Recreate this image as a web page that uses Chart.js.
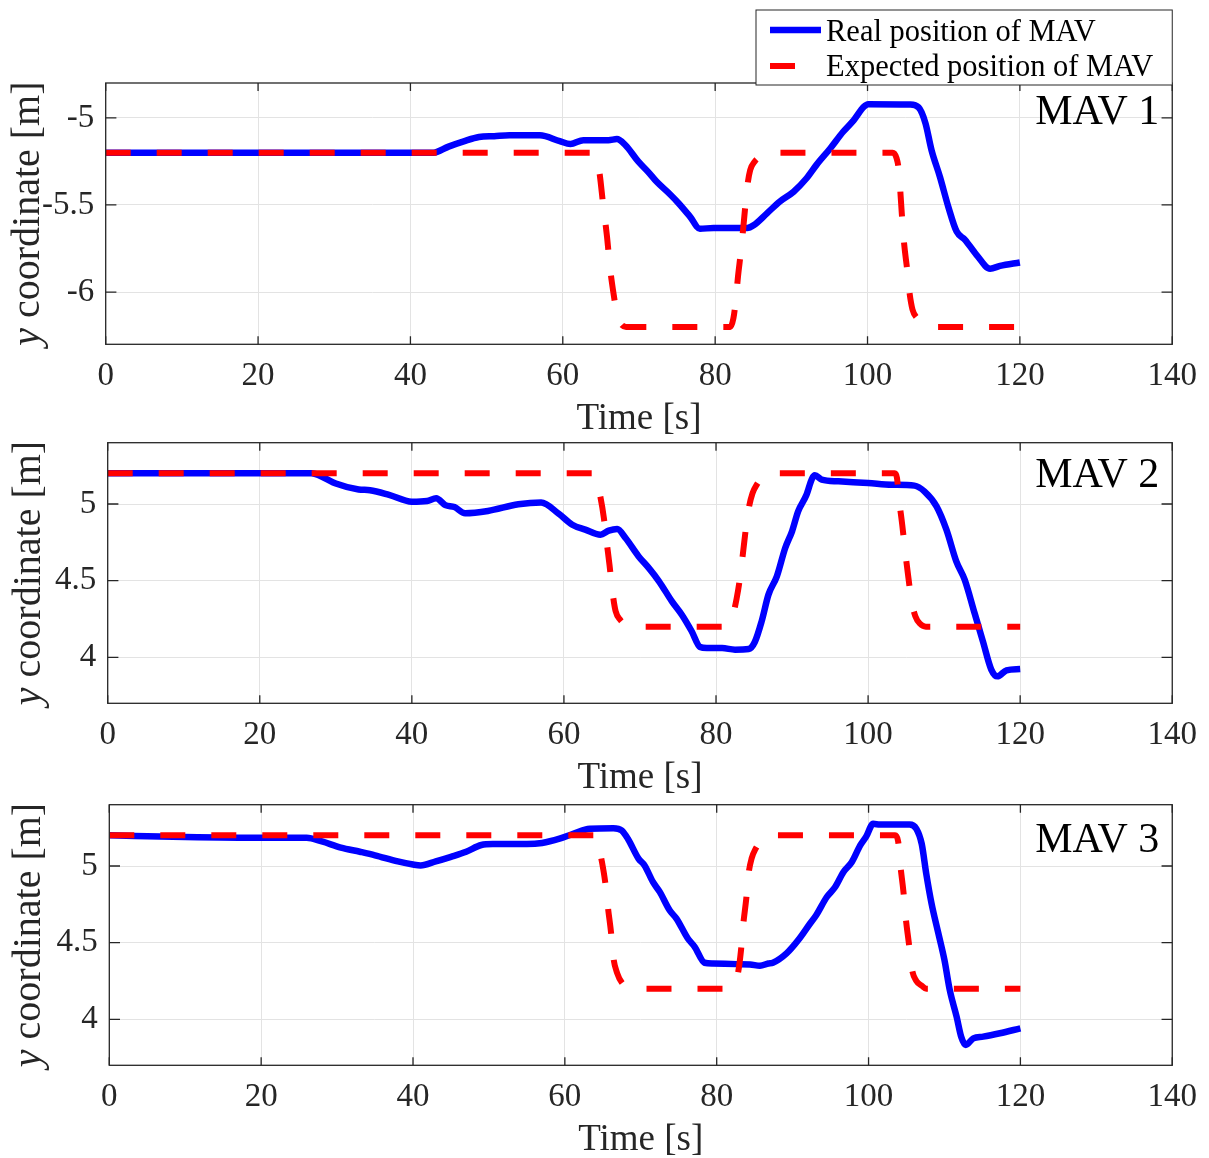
<!DOCTYPE html>
<html>
<head>
<meta charset="utf-8">
<script src="https://cdn.jsdelivr.net/npm/chart.js@4.4.1/dist/chart.umd.min.js"></script>
<style>
  body { margin: 0; background: #fff; }
  #page { position: relative; width: 1209px; height: 1158px; overflow: hidden; background: #fff; }
  #page canvas { position: absolute; left: 0; }
</style>
</head>
<body>
<div id="page">
  <canvas id="mav1" width="1209" height="440" style="top:0px"></canvas>
  <canvas id="mav2" width="1209" height="400" style="top:400px"></canvas>
  <canvas id="mav3" width="1209" height="398" style="top:760px"></canvas>
</div>
<script>
// tick values
const xTicks = [0, 20, 40, 60, 80, 100, 120, 140];
const mav1YTicks = [-6, -5.5, -5];
const mav23YTicks = [4, 4.5, 5];

const legendLabels = ['Real position of MAV', 'Expected position of MAV'];
const panelLabels = ['MAV 1', 'MAV 2', 'MAV 3'];

// MAV 1 - real position
const mav1RealT = [0, 43, 45, 47, 49, 51, 53, 57, 59.6, 61, 62.7, 66, 67.1, 68.2, 69.9, 71.2, 72.3, 74.1, 75.2, 76.7, 78, 79.8, 84.2, 85.1, 86.8, 88.5, 90.3, 92, 93.3, 95.1, 96.8, 98.2, 99.5, 100.1, 105.6, 106.7, 107.6, 108.4, 109.5, 110.6, 111.7, 112.8, 114.3, 116.1, 117.4, 120];
const mav1RealY = [-5.2, -5.2, -5.165, -5.135, -5.11, -5.105, -5.1, -5.1, -5.134, -5.15, -5.128, -5.128, -5.122, -5.156, -5.25, -5.31, -5.366, -5.44, -5.49, -5.567, -5.637, -5.632, -5.632, -5.615, -5.548, -5.48, -5.424, -5.347, -5.27, -5.176, -5.08, -5.013, -4.937, -4.922, -4.924, -4.94, -5.03, -5.185, -5.338, -5.51, -5.653, -5.7, -5.786, -5.866, -5.85, -5.83];
// MAV 1 - expected position
const mav1ExpT = [0, 63.6, 64.2, 64.5, 64.8, 65.3, 65.8, 66.2, 66.7, 67.1, 67.6, 68.3, 69.5, 82.0, 82.4, 82.7, 83.0, 83.4, 83.8, 84.2, 84.6, 85.2, 86.0, 87.0, 103.3, 103.8, 104.1, 104.5, 104.8, 105.2, 105.5, 105.9, 106.5, 107.3, 108.5, 120];
const mav1ExpY = [-5.2, -5.2, -5.21, -5.25, -5.31, -5.5, -5.68, -5.86, -6.02, -6.12, -6.18, -6.2, -6.2, -6.2, -6.15, -6.05, -5.91, -5.76, -5.58, -5.4, -5.3, -5.25, -5.22, -5.2, -5.2, -5.23, -5.3, -5.55, -5.72, -5.87, -6.0, -6.1, -6.15, -6.19, -6.2, -6.2];

// MAV 2 - real position
const mav2RealT = [0, 26.8, 28.5, 30, 33, 34.5, 37, 40, 42, 43.2, 44.4, 45.6, 47, 50, 54, 57, 59.3, 61.1, 62.8, 64.8, 65.9, 67, 68.1, 69.8, 71.2, 72.5, 74.2, 75.5, 76.8, 77.9, 78.8, 80.8, 82.5, 84.3, 85.1, 86, 86.9, 88, 89.1, 90, 90.8, 91.9, 92.6, 93, 93.9, 96.1, 100, 103.1, 106.1, 107.4, 109, 110.3, 111.6, 112.7, 114, 115.1, 116.2, 117, 118.2, 120];
const mav2RealY = [5.2, 5.2, 5.17, 5.134, 5.095, 5.09, 5.06, 5.015, 5.02, 5.037, 4.993, 4.98, 4.94, 4.955, 4.998, 5.01, 4.937, 4.865, 4.833, 4.8, 4.826, 4.837, 4.778, 4.66, 4.58, 4.496, 4.365, 4.278, 4.17, 4.067, 4.06, 4.06, 4.05, 4.054, 4.1, 4.235, 4.409, 4.528, 4.713, 4.822, 4.952, 5.06, 5.163, 5.187, 5.159, 5.148, 5.137, 5.126, 5.12, 5.083, 4.985, 4.833, 4.626, 4.507, 4.289, 4.104, 3.92, 3.876, 3.915, 3.924];
// MAV 2 - expected position
const mav2ExpT = [0, 63.7, 64.2, 64.7, 65.25, 65.6, 66.0, 66.4, 66.8, 67.4, 68.2, 69.5, 80.6, 81.6, 82.0, 82.3, 82.7, 83.1, 83.5, 83.9, 84.3, 84.8, 85.4, 86.2, 87.3, 103.5, 103.8, 104.1, 104.5, 104.9, 105.3, 105.7, 106.2, 106.8, 107.6, 120];
const mav2ExpY = [5.2, 5.2, 5.17, 5.07, 4.91, 4.76, 4.6, 4.42, 4.3, 4.245, 4.21, 4.2, 4.2, 4.21, 4.24, 4.29, 4.38, 4.5, 4.66, 4.83, 4.97, 5.07, 5.13, 5.18, 5.2, 5.2, 5.17, 5.02, 4.86, 4.68, 4.52, 4.37, 4.27, 4.22, 4.2, 4.2];

// MAV 3 - real position
const mav3RealT = [0, 10, 20, 26, 28, 30.5, 33, 35, 38, 40, 41, 43, 45, 47, 49, 50.5, 55, 57, 59.3, 61.1, 63.3, 66.4, 67.5, 68.3, 69.7, 70.5, 71.6, 72.5, 73.8, 74.7, 76.2, 77.1, 78.4, 79.5, 82.6, 84.4, 85.7, 86.8, 87.4, 89.2, 90.9, 92.3, 93.1, 94.5, 95.6, 96.7, 97.8, 98.9, 99.7, 100.6, 101.5, 105.4, 106.3, 107, 107.6, 108.3, 109.2, 110, 110.7, 111.6, 112.2, 112.8, 113.8, 115.1, 117.3, 120];
const mav3RealY = [5.2, 5.19, 5.185, 5.185, 5.16, 5.12, 5.093, 5.07, 5.03, 5.01, 5.004, 5.03, 5.06, 5.093, 5.137, 5.143, 5.143, 5.15, 5.178, 5.21, 5.243, 5.247, 5.232, 5.178, 5.048, 5.004, 4.896, 4.831, 4.711, 4.657, 4.527, 4.473, 4.369, 4.364, 4.36, 4.358, 4.349, 4.364, 4.369, 4.43, 4.527, 4.625, 4.679, 4.798, 4.863, 4.961, 5.026, 5.134, 5.193, 5.275, 5.271, 5.271, 5.243, 5.145, 4.95, 4.755, 4.56, 4.386, 4.19, 4.017, 3.887, 3.833, 3.876, 3.887, 3.909, 3.941];
// MAV 3 - expected position
const mav3ExpT = [0, 64.0, 64.4, 64.8, 65.3, 65.7, 66.1, 66.4, 66.9, 67.5, 68.3, 69.5, 80.9, 82.0, 82.4, 82.8, 83.2, 83.5, 83.9, 84.2, 84.6, 85.1, 86.0, 87.8, 103.5, 103.9, 104.2, 104.6, 104.9, 105.3, 105.7, 106.3, 107.0, 107.6, 120];
const mav3ExpY = [5.2, 5.2, 5.15, 5.05, 4.9, 4.72, 4.56, 4.4, 4.3, 4.24, 4.21, 4.2, 4.2, 4.21, 4.24, 4.3, 4.45, 4.62, 4.79, 4.95, 5.05, 5.11, 5.17, 5.2, 5.2, 5.16, 5.0, 4.83, 4.66, 4.5, 4.33, 4.25, 4.22, 4.2, 4.2];

const SERIF = '"Liberation Serif", "Times New Roman", serif';
const INK = '#262626';

function points(ts, ys) {
    return ts.map((t, i) => ({ x: t, y: ys[i] }));
}

// draws the matlab style box, inward ticks, axis titles, panel label and legend
const framePlugin = {
    id: 'frame',
    afterDraw(chart, args, opts) {
        const { ctx, chartArea: a, scales } = chart;
        ctx.save();

        // box
        ctx.strokeStyle = INK;
        ctx.lineWidth = 1.3;
        ctx.strokeRect(a.left, a.top, a.right - a.left, a.bottom - a.top);

        // inward ticks
        ctx.beginPath();
        scales.x.ticks.forEach(t => {
            const px = scales.x.getPixelForValue(t.value);
            ctx.moveTo(px, a.bottom); ctx.lineTo(px, a.bottom - 8);
            ctx.moveTo(px, a.top); ctx.lineTo(px, a.top + 8);
        });
        scales.y.ticks.forEach(t => {
            const py = scales.y.getPixelForValue(t.value);
            ctx.moveTo(a.left, py); ctx.lineTo(a.left + 10.7, py);
            ctx.moveTo(a.right, py); ctx.lineTo(a.right - 10.7, py);
        });
        ctx.stroke();

        // x title
        ctx.fillStyle = INK;
        ctx.font = '37px ' + SERIF;
        ctx.textAlign = 'center';
        ctx.textBaseline = 'alphabetic';
        ctx.fillText('Time [s]', (a.left + a.right) / 2, a.bottom + 85);

        // y title, italic y
        ctx.save();
        ctx.translate(opts.yTitleX, (a.top + a.bottom) / 2);
        ctx.rotate(-Math.PI / 2);
        ctx.textAlign = 'left';
        ctx.font = 'italic 40px ' + SERIF;
        const wY = ctx.measureText('y').width;
        ctx.font = '40px ' + SERIF;
        const wRest = ctx.measureText(' coordinate [m]').width;
        const x0 = -(wY + wRest) / 2;
        ctx.font = 'italic 40px ' + SERIF;
        ctx.fillText('y', x0, 0);
        ctx.font = '40px ' + SERIF;
        ctx.fillText(' coordinate [m]', x0 + wY, 0);
        ctx.restore();

        // panel label
        ctx.fillStyle = '#000';
        ctx.font = '42px ' + SERIF;
        ctx.textAlign = 'right';
        ctx.fillText(opts.label, a.right - 13, a.top + opts.labelOffset);

        // legend (first panel only)
        if (opts.legend) {
            const lx = 756, ly = 10, lw = a.right - 756, lh = 75;
            ctx.fillStyle = '#fff';
            ctx.fillRect(lx, ly, lw, lh);
            ctx.strokeStyle = INK;
            ctx.lineWidth = 1;
            ctx.strokeRect(lx, ly, lw, lh);

            ctx.lineWidth = 6.5;
            ctx.lineCap = 'butt';
            ctx.strokeStyle = '#0000ff';
            ctx.beginPath(); ctx.moveTo(770, 30); ctx.lineTo(821, 30); ctx.stroke();
            ctx.lineWidth = 6;
            ctx.strokeStyle = '#ff0000';
            ctx.beginPath(); ctx.moveTo(770, 66); ctx.lineTo(795, 66); ctx.stroke();

            ctx.fillStyle = '#000';
            ctx.font = '30.5px ' + SERIF;
            ctx.textAlign = 'left';
            ctx.fillText(legendLabels[0], 826, 41);
            ctx.fillText(legendLabels[1], 826, 76);
        }
        ctx.restore();
    }
};

function makeChart(id, cfg) {
    new Chart(document.getElementById(id), {
        type: 'line',
        data: {
            datasets: [
                {
                    label: legendLabels[0],
                    data: points(cfg.realT, cfg.realY),
                    borderColor: '#0000ff',
                    borderWidth: 6.5,
                    pointRadius: 0,
                    cubicInterpolationMode: 'monotone',
                    borderCapStyle: 'butt',
                    order: 1
                },
                {
                    label: legendLabels[1],
                    data: points(cfg.expT, cfg.expY),
                    borderColor: '#ff0000',
                    borderWidth: 6,
                    borderDash: [25, 26],
                    pointRadius: 0,
                    cubicInterpolationMode: 'monotone',
                    borderCapStyle: 'butt',
                    order: 0
                }
            ]
        },
        options: {
            responsive: false,
            animation: false,
            devicePixelRatio: 1,
            layout: { padding: { left: 0, right: cfg.padRight, top: cfg.padTop, bottom: 0 } },
            plugins: {
                legend: { display: false },
                tooltip: { enabled: false },
                frame: { label: cfg.label, labelOffset: cfg.labelOffset, legend: cfg.legend, yTitleX: cfg.yTitleX }
            },
            scales: {
                x: {
                    type: 'linear',
                    min: 0,
                    max: 140,
                    afterBuildTicks: s => { s.ticks = xTicks.map(v => ({ value: v })); },
                    afterFit: s => { s.height = cfg.xHeight; },
                    ticks: {
                        autoSkip: false,
                        maxRotation: 0,
                        padding: 12,
                        color: INK,
                        font: { family: SERIF, size: 33 },
                        callback: v => String(v)
                    },
                    grid: { color: '#e3e3e3', lineWidth: 1, drawTicks: false },
                    border: { display: false }
                },
                y: {
                    type: 'linear',
                    min: cfg.yMin,
                    max: cfg.yMax,
                    afterBuildTicks: s => { s.ticks = cfg.yTicks.map(v => ({ value: v })); },
                    afterFit: s => { s.width = cfg.yWidth; },
                    ticks: {
                        padding: 11.5,
                        color: INK,
                        font: { family: SERIF, size: 33 },
                        callback: v => String(v)
                    },
                    grid: { color: '#e3e3e3', lineWidth: 1, drawTicks: false },
                    border: { display: false }
                }
            }
        },
        plugins: [framePlugin]
    });
}

makeChart('mav1', {
    realT: mav1RealT, realY: mav1RealY, expT: mav1ExpT, expY: mav1ExpY,
    yMin: -6.3, yMax: -4.8, yTicks: mav1YTicks,
    padTop: 83, padRight: 36.7, xHeight: 95.7, yWidth: 105.7,
    label: panelLabels[0], labelOffset: 41, legend: true, yTitleX: 38.5
});
makeChart('mav2', {
    realT: mav2RealT, realY: mav2RealY, expT: mav2ExpT, expY: mav2ExpY,
    yMin: 3.7, yMax: 5.4, yTicks: mav23YTicks,
    padTop: 42.7, padRight: 34.3, xHeight: 96.7, yWidth: 107.7,
    label: panelLabels[1], labelOffset: 44.6, legend: false, yTitleX: 39.5
});
makeChart('mav3', {
    realT: mav3RealT, realY: mav3RealY, expT: mav3ExpT, expY: mav3ExpY,
    yMin: 3.7, yMax: 5.4, yTicks: mav23YTicks,
    padTop: 44.7, padRight: 36.7, xHeight: 92.7, yWidth: 109.3,
    label: panelLabels[2], labelOffset: 47, legend: false, yTitleX: 40
});
</script>
</body>
</html>
